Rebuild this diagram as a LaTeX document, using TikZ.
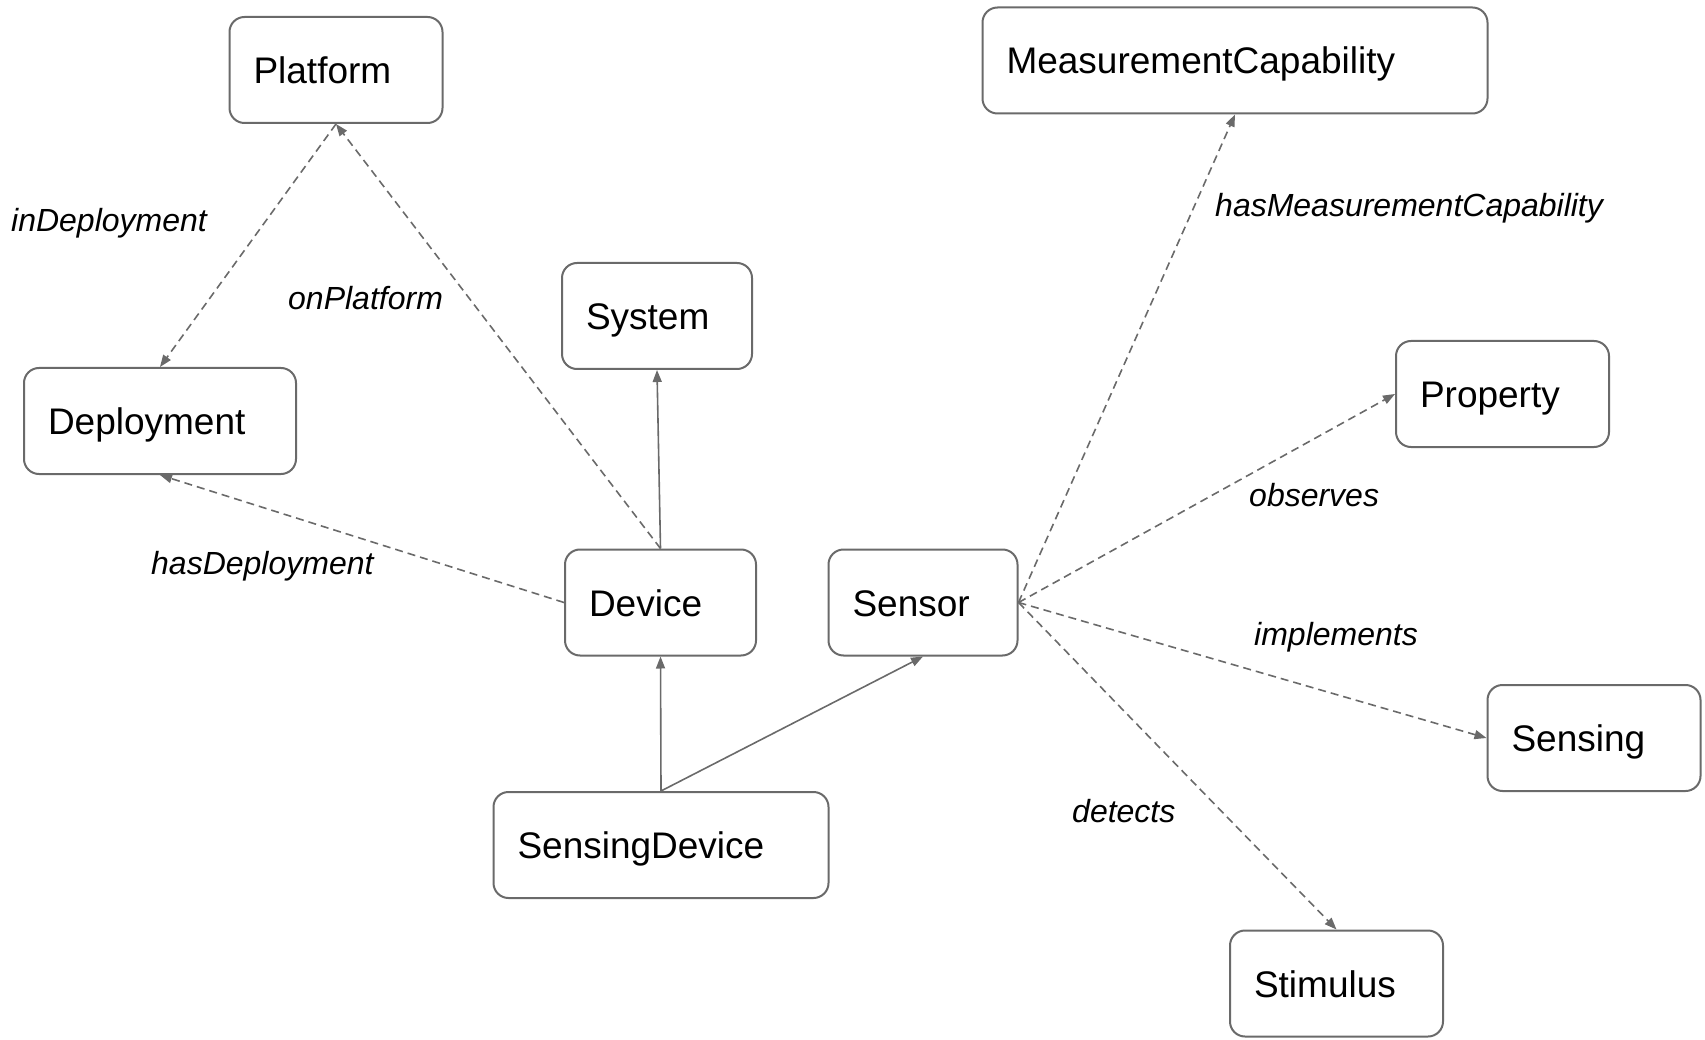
\documentclass[tikz,border=0pt]{standalone}
\usepackage{fontspec}
\setmainfont{Liberation Sans}
\usetikzlibrary{arrows.meta}
\definecolor{edgegray}{HTML}{6A6A6A}
\tikzset{
  box/.style={draw=edgegray, line width=2pt, rounded corners=15pt,
    minimum height=106pt, inner xsep=24pt, inner ysep=0pt,
    text height=27pt, text depth=0pt, align=left,
    font=\fontsize{37}{44}\selectfont},
  lbl/.style={anchor=base west, inner sep=0pt, font=\itshape\fontsize{32}{38}\selectfont},
  rel/.style={draw=edgegray, line width=1.6pt, dash pattern=on 8pt off 5pt,
    -{Triangle[length=12pt,width=9pt]}},
  isa/.style={draw=edgegray, line width=1.6pt, -{Triangle[length=12pt,width=9pt]}}
}
\begin{document}
\begin{tikzpicture}[x=1pt,y=-1pt]
\useasboundingbox (0,0) rectangle (1705,1040);
% nodes
\node[box, minimum width=213pt, text width=165pt] (platform) at (336,70) {Platform};
\node[box, minimum width=272pt, text width=224pt] (deployment) at (160,421) {Deployment};
\node[box, minimum width=190pt, text width=142pt] (system) at (657,316) {System};
\node[box, minimum width=191pt, text width=143pt] (device) at (660.5,602.5) {Device};
\node[box, minimum width=189pt, text width=141pt] (sensor) at (923,602.5) {Sensor};
\node[box, minimum width=335pt, text width=287pt] (sensingdevice) at (661,845) {SensingDevice};
\node[box, minimum width=505pt, text width=457pt] (mc) at (1235,60.5) {MeasurementCapability};
\node[box, minimum width=213pt, text width=165pt] (property) at (1502.5,394) {Property};
\node[box, minimum width=213pt, text width=165pt] (sensing) at (1594,738) {Sensing};
\node[box, minimum width=213pt, text width=165pt] (stimulus) at (1336.5,983.5) {Stimulus};
% connectors
\draw[rel] (platform.south) -- (deployment.north);
\draw[rel] (device.north) -- (platform.south);
\draw[rel] (device.west) -- (deployment.south);
\draw[isa] (device.north) -- (system.south);
\draw[isa] (sensingdevice.north) -- (device.south);
\draw[isa] (sensingdevice.north) -- (sensor.south);
\draw[rel] (sensor.east) -- (mc.south);
\draw[rel] (sensor.east) -- (property.west);
\draw[rel] (sensor.east) -- (sensing.west);
\draw[rel] (sensor.east) -- (stimulus.north);
% labels
\node[lbl] (lindep) at (11,232) {inDeployment};
\node[lbl] (lonplat) at (288,310) {onPlatform};
\node[lbl] (lhasdep) at (151,574) {hasDeployment};
\node[lbl] (lhasmc) at (1215,217) {hasMeasurementCapability};
\node[lbl] (lobs) at (1249,506) {observes};
\node[lbl] (limpl) at (1254,645) {implements};
\node[lbl] (ldet) at (1072,822) {detects};
\end{tikzpicture}
\end{document}
